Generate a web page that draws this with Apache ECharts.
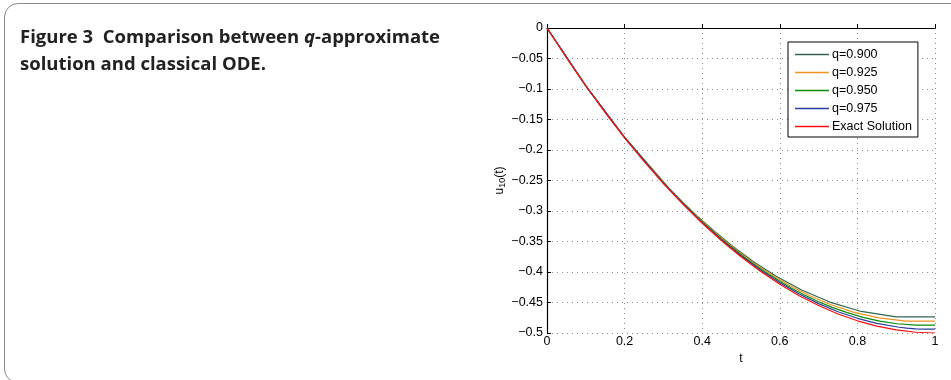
<!DOCTYPE html>
<html>
<head>
<meta charset="utf-8">
<script src="https://cdn.jsdelivr.net/npm/echarts@6/dist/echarts.min.js"></script>
<style>
  html, body { margin: 0; padding: 0; background: #fff; overflow: hidden; }
  #frame {
    position: absolute; left: 4px; top: 3px; width: 980px; height: 380px;
    border: 1.5px solid #8a8a8a; border-radius: 14px; box-sizing: border-box;
  }
  #chart { position: absolute; left: 0; top: 0; width: 951px; height: 380px; }
</style>
</head>
<body>
<div id="frame"></div>
<div id="chart"></div>
<script>
// series names, legend order
const seriesNames = ['q=0.900', 'q=0.925', 'q=0.950', 'q=0.975', 'Exact Solution']

// [t, u] points
const q900 = [
  [0, 0], [0.1, -0.0947], [0.2, -0.1789], [0.3138, -0.262], [0.3487, -0.2847],
  [0.3874, -0.3084], [0.4305, -0.3329], [0.4783, -0.3579], [0.5314, -0.3828],
  [0.5905, -0.407], [0.6561, -0.4295], [0.729, -0.4493], [0.81, -0.4647],
  [0.9, -0.4737], [1, -0.4737]
]
const q925 = [
  [0, 0], [0.1, -0.0948], [0.2, -0.1792], [0.3105, -0.2605], [0.3357, -0.2772],
  [0.3629, -0.2945], [0.3924, -0.3124], [0.4242, -0.3307], [0.4586, -0.3493],
  [0.4958, -0.3681], [0.536, -0.3867], [0.5794, -0.405], [0.6264, -0.4226],
  [0.6772, -0.439], [0.7321, -0.4537], [0.7915, -0.4661], [0.8556, -0.4753],
  [0.925, -0.4805], [1, -0.4805]
]
const q950 = [
  [0, 0], [0.1, -0.0949], [0.2, -0.1795], [0.3, -0.2538], [0.35, -0.2872],
  [0.4, -0.3179], [0.45, -0.3462], [0.5, -0.3718], [0.5404, -0.3906],
  [0.5688, -0.4029], [0.5987, -0.4149], [0.6302, -0.4266], [0.6634, -0.4377],
  [0.6983, -0.4483], [0.7351, -0.458], [0.7738, -0.4667], [0.8145, -0.4743],
  [0.8574, -0.4804], [0.9025, -0.4848], [0.95, -0.4872], [1, -0.4872]
]
const q975 = [
  [0, 0], [0.1, -0.0949], [0.2, -0.1797], [0.3, -0.2544], [0.35, -0.288],
  [0.4, -0.319], [0.45, -0.3475], [0.5, -0.3734], [0.55, -0.3968], [0.6, -0.4177],
  [0.65, -0.4361], [0.7, -0.4519], [0.75, -0.4652], [0.8, -0.4759], [0.85, -0.4842],
  [0.9037, -0.4902], [0.9269, -0.4919], [0.9506, -0.4931], [0.975, -0.4937], [1, -0.4937]
]
const exact = [
  [0, 0], [0.05, -0.0488], [0.1, -0.095], [0.15, -0.1388], [0.2, -0.18],
  [0.25, -0.2188], [0.3, -0.255], [0.35, -0.2888], [0.4, -0.32], [0.45, -0.3488],
  [0.5, -0.375], [0.55, -0.3988], [0.6, -0.42], [0.65, -0.4388], [0.7, -0.455],
  [0.75, -0.4688], [0.8, -0.48], [0.85, -0.4888], [0.9, -0.495], [0.95, -0.4988],
  [1, -0.5]
]
const seriesData = [q900, q925, q950, q975, exact]
const seriesColors = ['#33664f', '#f0921e', '#0a8a0a', '#2b3f9e', '#ff1010']

const font = '"Liberation Sans", Arial, sans-serif'
const fmt = (v) => {
  const s = String(Math.round(v * 100) / 100)
  return s.replace('-', '\u2212')
}

const chart = echarts.init(document.getElementById('chart'))
chart.setOption({
  animation: false,
  title: {
    left: 15,
    top: 19,
    text: '{b|Figure 3  Comparison between }{bi|q}{b|-approximate}\n{b|solution and classical ODE.}',
    textStyle: {
      rich: {
        b: { fontFamily: '"Open Sans", "Noto Sans", sans-serif', fontWeight: 'bold', fontSize: 18.5, color: '#222', lineHeight: 27 },
        bi: { fontFamily: '"Open Sans", "Noto Sans", sans-serif', fontWeight: 'bold', fontStyle: 'italic', fontSize: 18.5, color: '#222', lineHeight: 27 }
      }
    }
  },
  legend: {
    orient: 'vertical',
    left: 788,
    top: 42,
    data: seriesNames,
    icon: 'rect',
    itemWidth: 34,
    itemHeight: 1.5,
    itemGap: 5,
    padding: [6, 6, 4, 7],
    backgroundColor: '#fff',
    borderColor: '#000',
    borderWidth: 1,
    borderRadius: 0,
    textStyle: { fontFamily: font, fontSize: 12.5, color: '#000', padding: [0, 0, 0, -2] }
  },
  grid: { left: 547, right: 16, top: 28, bottom: 47 },
  xAxis: {
    type: 'value',
    min: 0,
    max: 1,
    interval: 0.2,
    name: 't',
    nameLocation: 'middle',
    nameGap: 20,
    nameTextStyle: { fontFamily: font, fontSize: 12, color: '#000' },
    axisLine: { lineStyle: { color: '#000', width: 1.2 } },
    axisTick: { inside: true, length: 4, lineStyle: { color: '#000' } },
    axisLabel: { fontFamily: font, fontSize: 12.5, color: '#000', margin: 2, formatter: fmt },
    splitLine: { show: true, lineStyle: { color: '#888', type: [1, 4], width: 1 } }
  },
  yAxis: {
    type: 'value',
    min: -0.5,
    max: 0,
    interval: 0.05,
    name: '{n|u}{s|10}{n|(t)}',
    nameLocation: 'middle',
    nameGap: 32,
    nameRotate: 90,
    nameTextStyle: {
      rich: {
        n: { fontFamily: font, fontSize: 12, color: '#000' },
        s: { fontFamily: font, fontSize: 9, color: '#000', padding: [6, 0, 0, 0] }
      }
    },
    axisLine: { onZero: false, lineStyle: { color: '#000', width: 1.2 } },
    axisTick: { show: true, inside: true, length: 4, lineStyle: { color: '#000' } },
    axisLabel: { fontFamily: font, fontSize: 12.5, color: '#000', margin: 4, formatter: fmt },
    splitLine: { show: true, lineStyle: { color: '#888', type: [1, 4], width: 1 } }
  },
  series: seriesNames.map((name, i) => ({
    name,
    type: 'line',
    data: seriesData[i],
    showSymbol: false,
    color: seriesColors[i],
    lineStyle: { width: 1.2, color: seriesColors[i] },
    z: 2 + i
  }))
})
</script>
</body>
</html>
